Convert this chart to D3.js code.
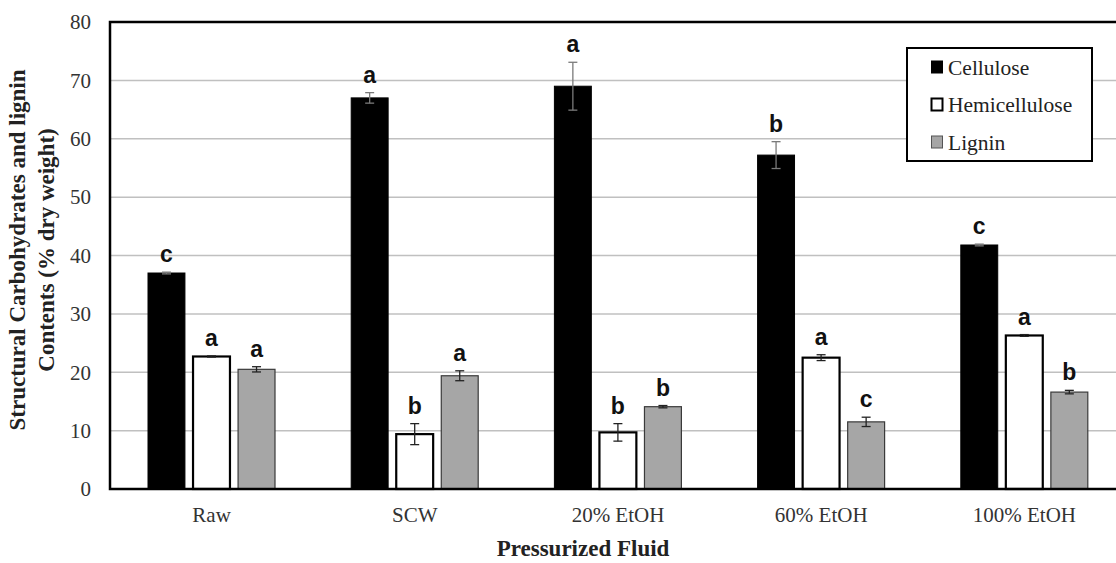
<!DOCTYPE html>
<html>
<head>
<meta charset="utf-8">
<script src="https://cdn.jsdelivr.net/npm/d3@7"></script>
<style>
  body { margin: 0; background: #fff; }
  svg { display: block; }
</style>
</head>
<body>
<svg id="chart" width="1116" height="563"></svg>
<script>
const fluids = ["Raw", "SCW", "20% EtOH", "60% EtOH", "100% EtOH"];
const series = ["Cellulose", "Hemicellulose", "Lignin"];
const cellulose = [37.0, 67.0, 69.0, 57.2, 41.8];
const hemicellulose = [22.7, 9.4, 9.7, 22.5, 26.3];
const lignin = [20.5, 19.4, 14.1, 11.5, 16.6];
const celluloseErr = [0.15, 0.9, 4.1, 2.3, 0.15];
const hemicelluloseErr = [0.1, 1.8, 1.5, 0.5, 0.15];
const ligninErr = [0.45, 0.85, 0.2, 0.8, 0.3];
const celluloseLetters = ["c", "a", "a", "b", "c"];
const hemicelluloseLetters = ["a", "b", "b", "a", "a"];
const ligninLetters = ["a", "a", "b", "c", "b"];
const yTicks = [0, 10, 20, 30, 40, 50, 60, 70, 80];

const values = [cellulose, hemicellulose, lignin];
const errs = [celluloseErr, hemicelluloseErr, ligninErr];
const letters = [celluloseLetters, hemicelluloseLetters, ligninLetters];

const fills = {"Cellulose": "#000000", "Hemicellulose": "#ffffff", "Lignin": "#a6a6a6"};
const strokes = {"Cellulose": "#000000", "Hemicellulose": "#000000", "Lignin": "#3a3a3a"};
const strokeW = {"Cellulose": 1, "Hemicellulose": 2.2, "Lignin": 1.2};

const serif = "'Liberation Serif', 'Times New Roman', serif";
const margin = {top: 22, left: 110, bottom: 489, right: 1126};
const svg = d3.select("#chart");

const x0 = d3.scaleBand(fluids, [margin.left, margin.right]);
const x1 = d3.scaleBand(series, [38, 165]).paddingInner(0.18);
const y = d3.scaleLinear([0, 80], [margin.bottom, margin.top]);

// gridlines
svg.append("g")
  .selectAll("line")
  .data(yTicks.slice(1))
  .join("line")
    .attr("x1", margin.left)
    .attr("x2", margin.right)
    .attr("y1", d => y(d))
    .attr("y2", d => y(d))
    .attr("stroke", "#c0c0c0")
    .attr("stroke-width", 1.5);

// y tick labels
svg.append("g")
    .attr("font-family", serif)
    .attr("font-size", 21)
    .attr("fill", "#333")
    .attr("text-anchor", "end")
  .selectAll("text")
  .data(yTicks)
  .join("text")
    .attr("x", 91)
    .attr("y", d => y(d))
    .attr("dy", "0.35em")
    .text(d => d);

// flatten the table for the bars
const rows = [];
fluids.forEach((f, i) => {
  series.forEach((s, j) => {
    rows.push({fluid: f, key: s, value: values[j][i], err: errs[j][i], letter: letters[j][i]});
  });
});

const groups = svg.append("g")
  .selectAll("g")
  .data(rows)
  .join("g")
    .attr("transform", d => `translate(${x0(d.fluid)},0)`);

groups.append("rect")
    .attr("x", d => x1(d.key))
    .attr("width", x1.bandwidth())
    .attr("y", d => y(d.value))
    .attr("height", d => y(0) - y(d.value))
    .attr("fill", d => fills[d.key])
    .attr("stroke", d => strokes[d.key])
    .attr("stroke-width", d => strokeW[d.key]);

// error bars
const eb = groups.append("g")
    .attr("stroke", d => d.key === "Cellulose" ? "#7a7a7a" : "#222")
    .attr("stroke-width", 1.3);
eb.append("line")
    .attr("x1", d => x1(d.key) + x1.bandwidth() / 2)
    .attr("x2", d => x1(d.key) + x1.bandwidth() / 2)
    .attr("y1", d => y(d.value + d.err))
    .attr("y2", d => y(d.value - d.err));
eb.selectAll("line.cap")
  .data(d => [d.value + d.err, d.value - d.err].map(v => ({v, d})))
  .join("line")
    .attr("class", "cap")
    .attr("x1", c => x1(c.d.key) + x1.bandwidth() / 2 - 4.5)
    .attr("x2", c => x1(c.d.key) + x1.bandwidth() / 2 + 4.5)
    .attr("y1", c => y(c.v))
    .attr("y2", c => y(c.v));

// significance letters
groups.append("text")
    .attr("x", d => x1(d.key) + x1.bandwidth() / 2)
    .attr("y", d => y(d.value + d.err) - 10)
    .attr("text-anchor", "middle")
    .attr("font-family", "'Liberation Sans', Arial, sans-serif")
    .attr("font-weight", "bold")
    .attr("font-size", 23)
    .attr("fill", "#111")
    .text(d => d.letter);

// plot frame
svg.append("path")
    .attr("d", `M${margin.right},${margin.top}H${margin.left}V${margin.bottom}H${margin.right}`)
    .attr("fill", "none")
    .attr("stroke", "#000")
    .attr("stroke-width", 2.5);

// category labels
svg.append("g")
    .attr("font-family", serif)
    .attr("font-size", 21)
    .attr("fill", "#333")
    .attr("text-anchor", "middle")
  .selectAll("text")
  .data(fluids)
  .join("text")
    .attr("x", d => x0(d) + x0.bandwidth() / 2)
    .attr("y", 522)
    .text(d => d);

// axis titles
svg.append("text")
    .attr("x", 583)
    .attr("y", 556)
    .attr("text-anchor", "middle")
    .attr("font-family", serif)
    .attr("font-weight", "bold")
    .attr("font-size", 23)
    .attr("fill", "#222")
    .text("Pressurized Fluid");

const yTitle = svg.append("text")
    .attr("transform", "translate(0,250)rotate(-90)")
    .attr("text-anchor", "middle")
    .attr("font-family", serif)
    .attr("font-weight", "bold")
    .attr("font-size", 23)
    .attr("fill", "#222");
yTitle.append("tspan").attr("x", 0).attr("y", 25).text("Structural Carbohydrates and lignin");
yTitle.append("tspan").attr("x", 0).attr("y", 54).text("Contents (% dry weight)");

// legend
const legend = svg.append("g");
legend.append("rect")
    .attr("x", 907)
    .attr("y", 48)
    .attr("width", 185)
    .attr("height", 113)
    .attr("fill", "#fff")
    .attr("stroke", "#000")
    .attr("stroke-width", 2);
const item = legend.selectAll("g")
  .data(series)
  .join("g")
    .attr("transform", (d, i) => `translate(931,${67 + i * 37.5})`);
item.append("rect")
    .attr("x", 0.5)
    .attr("y", -6)
    .attr("width", 11)
    .attr("height", 12)
    .attr("fill", d => fills[d])
    .attr("stroke", d => d === "Lignin" ? "#555" : "#000")
    .attr("stroke-width", d => d === "Hemicellulose" ? 2 : 1);
item.append("text")
    .attr("x", 17)
    .attr("dy", "0.35em")
    .attr("font-family", serif)
    .attr("font-size", 21.5)
    .attr("fill", "#222")
    .text(d => d);
</script>
</body>
</html>
